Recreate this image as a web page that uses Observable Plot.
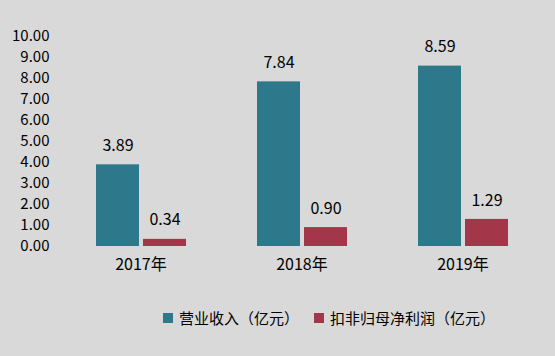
<!DOCTYPE html>
<html>
<head>
<meta charset="utf-8">
<script src="https://cdn.jsdelivr.net/npm/d3@7"></script>
<script src="https://cdn.jsdelivr.net/npm/@observablehq/plot@0.6"></script>
<style>
  html, body { margin: 0; padding: 0; background: #d9d9d9; }
  #wrap { position: relative; width: 555px; height: 356px; background: #d9d9d9; font-family: "Noto Sans CJK SC", "Noto Sans", sans-serif; }
  #legend { position: absolute; left: 163px; top: 307px; display: flex; align-items: center; font-size: 15px; color: #000; }
  .item { display: flex; align-items: center; margin-right: 15px; }
  .sw { width: 10px; height: 10px; margin-right: 6px; }
</style>
</head>
<body>
<div id="wrap"><div id="chart"></div><div id="legend"></div></div>
<script>
const years = ["2017年", "2018年", "2019年"];
const seriesNames = ["营业收入（亿元）", "扣非归母净利润（亿元）"];
const revenue = [3.89, 7.84, 8.59];
const profit = [0.34, 0.90, 1.29];
const colors = ["#2e788c", "#a33648"];
const yTicks = [0, 1, 2, 3, 4, 5, 6, 7, 8, 9, 10];

const data = years.flatMap((y, i) => [
  {year: y, series: seriesNames[0], value: revenue[i]},
  {year: y, series: seriesNames[1], value: profit[i]}
]);

const chart = Plot.plot({
  width: 555,
  height: 300,
  marginLeft: 59,
  marginRight: 11,
  marginTop: 36,
  marginBottom: 54,
  style: {background: "#d9d9d9", fontFamily: "'Noto Sans CJK SC', 'Noto Sans', sans-serif", fontSize: "15px", color: "#000"},
  fx: {domain: years, padding: 0, label: null},
  x: {domain: seriesNames, paddingInner: 0.095, paddingOuter: 0.747, axis: null},
  y: {domain: [0, 10], label: null},
  color: {domain: seriesNames, range: colors},
  marks: [
    Plot.axisY({ticks: yTicks, tickFormat: d => d.toFixed(2), tickSize: 0, tickPadding: 11, fontSize: 15, label: null}),
    Plot.axisFx({anchor: "bottom", tickSize: 0, tickPadding: 12, fontSize: 16, label: null}),
    Plot.barY(data, {fx: "year", x: "series", y: "value", fill: "series"}),
    Plot.text(data, {fx: "year", x: "series", y: "value", text: d => d.value.toFixed(2), dy: -19, fontSize: 16, fill: "#000"})
  ]
});
document.getElementById("chart").appendChild(chart);

const legend = document.getElementById("legend");
seriesNames.forEach((name, i) => {
  const item = document.createElement("div");
  item.className = "item";
  const sw = document.createElement("span");
  sw.className = "sw";
  sw.style.background = colors[i];
  const label = document.createElement("span");
  label.textContent = name;
  item.appendChild(sw);
  item.appendChild(label);
  legend.appendChild(item);
});
</script>
</body>
</html>
